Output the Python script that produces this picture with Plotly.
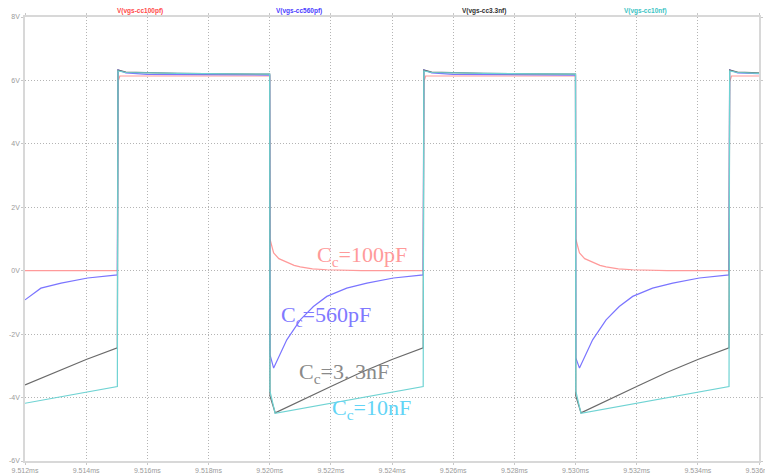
import plotly.graph_objects as go

# ---- data (time in ms, voltage in V) ----
t_red = [9.512, 9.51502, 9.51504, 9.5151, 9.5200, 9.52001, 9.52005, 9.52013, 9.5203, 9.52056, 9.5208,
         9.5210, 9.5214, 9.52187, 9.5225, 9.5230, 9.5250, 9.52502, 9.52504, 9.5251, 9.5300, 9.53001,
         9.53005, 9.53013, 9.5303, 9.53056, 9.5308, 9.5310, 9.5314, 9.53187, 9.5325, 9.5330, 9.5350,
         9.53502, 9.53504, 9.5351, 9.536]
v_red = [0.0, 0.0, 5.95, 6.14, 6.14, 1.0, 0.85, 0.56, 0.38, 0.26, 0.17,
         0.12, 0.06, 0.03, 0.01, 0.0, 0.0, 0.0, 5.95, 6.14, 6.14, 1.0,
         0.85, 0.56, 0.38, 0.26, 0.17, 0.12, 0.06, 0.03, 0.01, 0.0, 0.0,
         0.0, 5.95, 6.14, 6.14]

t_blue = [9.512, 9.51252, 9.51318, 9.51405, 9.51502, 9.51504, 9.5153, 9.5160, 9.5200, 9.52001, 9.52013,
          9.52056, 9.5210, 9.52143, 9.52187, 9.52252, 9.52318, 9.52405, 9.52502, 9.52504, 9.5253,
          9.5260, 9.5300, 9.53001, 9.53013, 9.53056, 9.5310, 9.53143, 9.53187, 9.53252, 9.53318,
          9.53405, 9.53502, 9.53504, 9.5353, 9.536]
v_blue = [-0.92, -0.55, -0.39, -0.23, -0.13, 6.33, 6.24, 6.19, 6.17, -2.65, -3.07,
          -2.18, -1.55, -1.13, -0.81, -0.55, -0.39, -0.23, -0.13, 6.33, 6.24,
          6.19, 6.17, -2.75, -3.07, -2.18, -1.55, -1.13, -0.81, -0.55, -0.39,
          -0.23, -0.13, 6.33, 6.24, 6.21]

t_gray = [9.512, 9.513, 9.514, 9.51502, 9.51504, 9.5153, 9.5170, 9.5200, 9.52001, 9.52018, 9.5210,
          9.5220, 9.5230, 9.5240, 9.52502, 9.52504, 9.5253, 9.5270, 9.5300, 9.53001, 9.53018,
          9.5310, 9.5320, 9.5330, 9.5340, 9.53502, 9.53504, 9.5353, 9.536]
v_gray = [-3.6, -3.2, -2.8, -2.43, 6.33, 6.26, 6.22, 6.2, -3.95, -4.48, -4.1,
          -3.65, -3.2, -2.8, -2.43, 6.33, 6.26, 6.22, 6.2, -3.95, -4.48,
          -4.1, -3.65, -3.2, -2.8, -2.43, 6.33, 6.26, 6.24]

t_cyan = [9.512, 9.51502, 9.51504, 9.5153, 9.5170, 9.5200, 9.52001, 9.52018, 9.52502, 9.52504,
          9.5253, 9.5270, 9.5300, 9.53001, 9.53018, 9.53502, 9.53504, 9.5353, 9.536]
v_cyan = [-4.18, -3.65, 6.3, 6.25, 6.22, 6.2, -3.8, -4.5, -3.65, 6.3,
          6.25, 6.22, 6.2, -3.8, -4.5, -3.65, 6.3, 6.25, 6.22]

x_ticks = [9.512, 9.514, 9.516, 9.518, 9.520, 9.522, 9.524, 9.526, 9.528, 9.530, 9.532, 9.534, 9.536]
x_labels = ["9.512ms", "9.514ms", "9.516ms", "9.518ms", "9.520ms", "9.522ms", "9.524ms",
            "9.526ms", "9.528ms", "9.530ms", "9.532ms", "9.534ms", "9.536ms"]
y_ticks = [-6, -4, -2, 0, 2, 4, 6, 8]
y_labels = ["-6V", "-4V", "-2V", "0V", "2V", "4V", "6V", "8V"]

trace_names = ["V(vgs-cc100pf)", "V(vgs-cc560pf)", "V(vgs-cc3.3nf)", "V(vgs-cc10nf)"]
trace_colors = ["#ff9a9a", "#7a74ff", "#6a6a6a", "#6fd3d3"]
name_colors = ["#ff4a4a", "#4a3cff", "#303030", "#3cc4c4"]
name_x = [0.123, 0.373, 0.625, 0.877]

labels = ["C<sub>c</sub>=100pF", "C<sub>c</sub>=560pF", "C<sub>c</sub>=3. 3nF", "C<sub>c</sub>=10nF"]
label_colors = ["#ff9a9a", "#8079ff", "#8a8a8a", "#62d4f6"]
label_pos = [(9.52149, 0.45), (9.52031, -1.44), (9.52090, -3.22), (9.52198, -4.36)]

fig = go.Figure()
series = [(t_red, v_red), (t_blue, v_blue), (t_gray, v_gray), (t_cyan, v_cyan)]
for (tx, vy), nm, col in zip(series, trace_names, trace_colors):
    fig.add_trace(go.Scatter(x=tx, y=vy, mode="lines", name=nm,
                             line=dict(color=col, width=1.2), showlegend=False))

for nm, col, xp in zip(trace_names, name_colors, name_x):
    fig.add_annotation(x=xp, y=1.0, xref="paper", yref="paper", yanchor="bottom",
                       yshift=0, text="<b>" + nm + "</b>", showarrow=False,
                       font=dict(family="Liberation Sans Narrow, Liberation Sans, Arial", size=6.5, color=col))

for txt, col, (xp, yp) in zip(labels, label_colors, label_pos):
    fig.add_annotation(x=xp, y=yp, xref="x", yref="y", xanchor="left", yanchor="middle",
                       text=txt, showarrow=False,
                       font=dict(family="Liberation Serif, DejaVu Serif, serif", size=22, color=col))

axis_common = dict(showgrid=True, gridcolor="#b4b4b4", griddash="1px,2px", gridwidth=1,
                   showline=True, linecolor="#d8d8d8", linewidth=1.5, mirror="ticks",
                   ticks="outside", ticklen=2, tickcolor="#c8c8c8", zeroline=False,
                   automargin=False, ticklabeloverflow="allow",
                   tickfont=dict(family="Liberation Sans Narrow, Liberation Sans, Arial", size=7, color="#9a9a9a"))

fig.update_layout(
    width=765, height=474,
    margin=dict(l=25, r=6, t=17, b=13),
    paper_bgcolor="white", plot_bgcolor="white",
    xaxis=dict(range=[9.512, 9.536], tickvals=x_ticks, ticktext=x_labels, **axis_common),
    yaxis=dict(range=[-6, 8], tickvals=y_ticks, ticktext=y_labels, **axis_common),
)

fig.write_html("out.html", config={"displayModeBar": False},
               post_script="document.body.style.margin='0';document.body.style.overflow='hidden';")
